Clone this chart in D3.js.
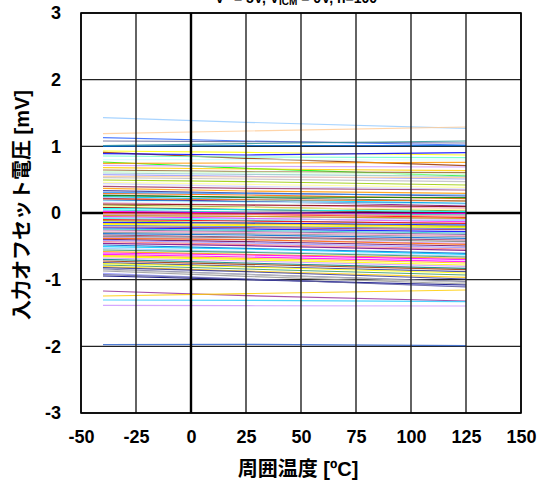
<!DOCTYPE html>
<html>
<head>
<meta charset="utf-8">
<script src="https://cdn.jsdelivr.net/npm/d3@7"></script>
<style>
  html, body { margin: 0; padding: 0; background: #fff; }
  svg { display: block; }
  text { font-family: "Liberation Sans", Arial, "Noto Sans CJK JP", sans-serif; font-weight: bold; fill: #000; }
</style>
</head>
<body>
<svg id="chart" width="541" height="481"></svg>
<script>
// Measurement temperatures (°C)
const temperatures = [-40, 25, 125];

// Input offset voltage (mV) of each of the 100 units at -40 °C, 25 °C and 125 °C
const vosAtMinus40 = [
  1.43, 1.19, 1.13, 1.08, 1.01, 1.00, 0.93, 0.91, 0.89, 0.855,
  0.80, 0.765, 0.745, 0.715, 0.68, 0.645, 0.60, 0.575, 0.53, 0.495,
  0.46, 0.40, 0.37, 0.335, 0.295, 0.27, 0.245, 0.22, 0.195, 0.155,
  0.12, 0.085, 0.045, 0.005, -0.03, -0.055, -0.085, -0.115, -0.155, -0.185,
  -0.225, -0.255, -0.29, -0.33, -0.365, -0.395, -0.43, -0.48, -0.53, -0.58,
  -0.62, -0.655, -0.695, -0.745, -0.78, -0.805, -0.84, -0.87, -0.905, -0.945,
  -1.17, -1.245, -1.305, -1.385, -1.975, 0.62, 0.55, 0.44, 0.31, 0.26,
  0.21, 0.17, 0.135, 0.10, 0.065, 0.025, -0.01, -0.04, -0.07, -0.10,
  -0.14, -0.17, -0.21, -0.24, -0.27, -0.31, -0.35, -0.38, -0.41, -0.455,
  -0.505, -0.555, -0.60, -0.64, -0.675, -0.72, -0.76, -0.82, -0.855, -0.925
];
const vosAt25 = [
  1.36, 1.23, 1.08, 1.07, 1.04, 1.01, 0.91, 0.82, 0.87, 0.84,
  0.80, 0.67, 0.75, 0.70, 0.66, 0.62, 0.58, 0.55, 0.51, 0.47,
  0.43, 0.37, 0.33, 0.30, 0.27, 0.23, 0.20, 0.17, 0.17, 0.12,
  0.09, 0.05, 0.01, -0.02, -0.05, -0.08, -0.11, -0.15, -0.17, -0.20,
  -0.24, -0.28, -0.31, -0.36, -0.40, -0.43, -0.47, -0.53, -0.58, -0.62,
  -0.66, -0.70, -0.75, -0.80, -0.84, -0.87, -0.92, -0.95, -0.99, -1.00,
  -1.24, -1.21, -1.31, -1.39, -1.97, 0.61, 0.54, 0.40, 0.29, 0.24,
  0.20, 0.16, 0.12, 0.08, 0.05, 0.00, -0.02, -0.05, -0.09, -0.12,
  -0.15, -0.19, -0.22, -0.26, -0.29, -0.33, -0.37, -0.40, -0.45, -0.49,
  -0.54, -0.59, -0.63, -0.68, -0.72, -0.77, -0.81, -0.88, -0.92, -0.99
];
const vosAt125 = [
  1.27, 1.29, 1.02, 1.05, 1.08, 1.01, 0.87, 0.71, 0.905, 0.83,
  0.795, 0.555, 0.76, 0.69, 0.635, 0.605, 0.55, 0.51, 0.47, 0.42,
  0.385, 0.345, 0.295, 0.255, 0.215, 0.18, 0.145, 0.105, 0.14, 0.07,
  0.03, 0.00, -0.03, -0.065, -0.095, -0.13, -0.165, -0.205, -0.195, -0.23,
  -0.28, -0.32, -0.355, -0.405, -0.455, -0.495, -0.54, -0.605, -0.645, -0.68,
  -0.73, -0.78, -0.83, -0.88, -0.93, -0.965, -1.03, -1.065, -1.105, -1.08,
  -1.32, -1.155, -1.33, -1.395, -1.99, 0.58, 0.53, 0.36, 0.27, 0.23,
  0.18, 0.135, 0.095, 0.055, 0.02, -0.005, -0.045, -0.08, -0.115, -0.155,
  -0.18, -0.22, -0.25, -0.30, -0.34, -0.38, -0.43, -0.47, -0.52, -0.56,
  -0.62, -0.66, -0.70, -0.75, -0.80, -0.85, -0.90, -0.99, -1.04, -1.11
];

// Line colour of each unit
const unitColors = [
  "#99CCFF", "#FFCC99", "#3366FF", "#666699", "#339999", "#0066CC", "#FFFF00", "#993300", "#0000FF", "#66FFCC",
  "#CCFFFF", "#00FF00", "#FF9900", "#CC99FF", "#FFCC00", "#996633", "#99CCCC", "#9999FF", "#C0C0C0", "#99CC00",
  "#FFFF99", "#993366", "#FF9900", "#333399", "#FF6600", "#336666", "#00CCFF", "#800080", "#0066CC", "#FF99CC",
  "#808000", "#800000", "#33CCCC", "#FF0000", "#CC99FF", "#FF00FF", "#00FFFF", "#99CC00", "#FFCC00", "#3366FF",
  "#0000FF", "#666699", "#969696", "#993366", "#CC99FF", "#660066", "#FF8080", "#0066CC", "#99CCFF", "#FF9900",
  "#FF00FF", "#FFFF00", "#008080", "#333399", "#339966", "#FFCC00", "#666699", "#969696", "#9999FF", "#000080",
  "#993399", "#FFCC00", "#33CCFF", "#CC99FF", "#3366CC", "#CCFFCC", "#FFCC99", "#CCCCFF", "#3399FF", "#008000",
  "#FF6600", "#CCFFFF", "#800000", "#FFFF99", "#00FFFF", "#FF00FF", "#FF8080", "#CC9900", "#99CCFF", "#FF0000",
  "#0000FF", "#FFFF00", "#993366", "#33CCCC", "#FF99CC", "#0066CC", "#808080", "#FF6600", "#9999FF", "#800080",
  "#00CCFF", "#339966", "#FF00FF", "#FFCC00", "#CC99FF", "#993300", "#FFFF00", "#333399", "#C0C0C0", "#666699"
];

// Axis ticks
const xTicks = [-50, -25, 0, 25, 50, 75, 100, 125, 150];
const yTicks = [-3, -2, -1, 0, 1, 2, 3];

const series = vosAtMinus40.map((v, i) => ({
  color: unitColors[i],
  points: temperatures.map((t, k) => ({ t, v: [vosAtMinus40, vosAt25, vosAt125][k][i] }))
}));

const svg = d3.select("#chart");
const plot = { left: 81, right: 521, top: 13, bottom: 413 };

const x = d3.scaleLinear().domain([-50, 150]).range([plot.left, plot.right]);
const y = d3.scaleLinear().domain([-3, 3]).range([plot.bottom, plot.top]);

// Horizontal grid lines (behind the data)
svg.append("g")
  .selectAll("line")
  .data(yTicks.filter(d => d !== 0))
  .join("line")
  .attr("x1", plot.left).attr("x2", plot.right)
  .attr("y1", d => y(d)).attr("y2", d => y(d))
  .attr("stroke", "#222").attr("stroke-width", 1.4);

svg.append("line")
  .attr("x1", plot.left).attr("x2", plot.right)
  .attr("y1", y(0)).attr("y2", y(0))
  .attr("stroke", "#000").attr("stroke-width", 2.6);

// One line per unit
const line = d3.line().x(d => x(d.t)).y(d => y(d.v));
svg.append("g")
  .selectAll("path")
  .data(series)
  .join("path")
  .attr("d", d => line(d.points))
  .attr("fill", "none")
  .attr("stroke", d => d.color)
  .attr("stroke-width", 1.1)
  .attr("stroke-opacity", 0.85);

// Vertical grid lines
svg.append("g")
  .selectAll("line")
  .data(xTicks)
  .join("line")
  .attr("x1", d => x(d)).attr("x2", d => x(d))
  .attr("y1", plot.top).attr("y2", plot.bottom)
  .attr("stroke", d => d === 0 ? "#000" : "#222")
  .attr("stroke-width", d => d === 0 ? 2.4 : 1.4);

// Frame
svg.append("rect")
  .attr("x", plot.left).attr("y", plot.top)
  .attr("width", plot.right - plot.left).attr("height", plot.bottom - plot.top)
  .attr("fill", "none").attr("stroke", "#000").attr("stroke-width", 1.6);

// Tick labels via D3 axes (domain and tick marks hidden), plain hyphen minus
const xAxis = svg.append("g")
  .attr("transform", `translate(0,${plot.bottom})`)
  .call(d3.axisBottom(x).tickValues(xTicks).tickSize(0).tickPadding(17).tickFormat(d => String(d)));
const yAxis = svg.append("g")
  .attr("transform", `translate(${plot.left},0)`)
  .call(d3.axisLeft(y).tickValues(yTicks).tickSize(0).tickPadding(20).tickFormat(d => String(d)));
[xAxis, yAxis].forEach(g => {
  g.select(".domain").remove();
  g.selectAll("text")
    .attr("font-family", "'Liberation Sans', Arial, sans-serif")
    .attr("font-weight", "bold")
    .attr("font-size", 18)
    .attr("fill", "#000");
});

// Title (partly above the page edge)
const title = svg.append("text")
  .attr("x", 296).attr("y", 3)
  .attr("text-anchor", "middle")
  .attr("font-size", 14);
title.append("tspan").text("V");
title.append("tspan").attr("font-size", 10).attr("dy", -5).text("+");
title.append("tspan").attr("dy", 5).text(" = 5V, V");
title.append("tspan").attr("font-size", 10).attr("dy", 2).text("ICM");
title.append("tspan").attr("dy", -2).text(" = 0V, n=100");

// Axis titles
svg.append("text")
  .attr("x", 298).attr("y", 476)
  .attr("text-anchor", "middle")
  .attr("font-size", 20)
  .text("周囲温度 [ºC]");

svg.append("text")
  .attr("transform", "translate(29,205) rotate(-90)")
  .attr("text-anchor", "middle")
  .attr("font-size", 20)
  .text("入力オフセット電圧 [mV]");
</script>
</body>
</html>
